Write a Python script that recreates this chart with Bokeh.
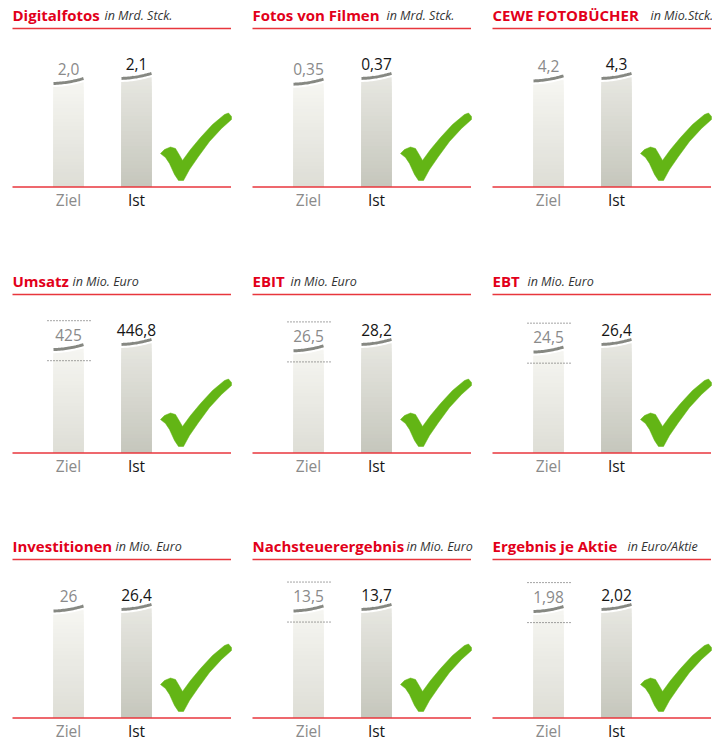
import numpy as np
from bokeh.plotting import figure
from bokeh.layouts import gridplot
from bokeh.models import Range1d
from bokeh.core.properties import value
from bokeh.embed import file_html
from bokeh.resources import INLINE

# ---------------- data ----------------
titles = ["Digitalfotos", "Fotos von Filmen", "CEWE FOTOBÜCHER",
          "Umsatz", "EBIT", "EBT",
          "Investitionen", "Nachsteuerergebnis", "Ergebnis je Aktie"]
units = ["in Mrd. Stck.", "in Mrd. Stck.", "in Mio.Stck.",
         "in Mio. Euro", "in Mio. Euro", "in Mio. Euro",
         "in Mio. Euro", "in Mio. Euro", "in Euro/Aktie"]
categories = ["Ziel", "Ist"]
ziel = [2.0, 0.35, 4.2, 425, 26.5, 24.5, 26, 13.5, 1.98]
ist = [2.1, 0.37, 4.3, 446.8, 28.2, 26.4, 26.4, 13.7, 2.02]
ziel_labels = ["2,0", "0,35", "4,2", "425", "26,5", "24,5", "26", "13,5", "1,98"]
ist_labels = ["2,1", "0,37", "4,3", "446,8", "28,2", "26,4", "26,4", "13,7", "2,02"]
ziel_is_range = [False, False, False, True, True, True, False, True, True]

# ---------------- layout / style ----------------
COL_W = [240, 240, 232]
ROW_H = [266, 265, 210]
LEFT, RIGHT = 12, 230.5
TITLE_Y, RULE_Y, BASE_Y, CAT_Y = 14.5, 28, 186.5, 199
LABEL_DY = 17        # px above bar value for the value label
BAR_X = [68, 136]
BAR_HALF = 15
IST_H = 106.5        # pixel height of the "Ist" bar
UNIT_X = [104, 146, 170, 72, 50, 47, 115, 166, 147]
RED = "#e2001a"
RULE_RED = "#e8363c"
GRAY_TXT = "#8a8a8a"
DARK_TXT = "#151515"
CAP = "#868882"
GREEN = "#63b515"
BAR_COLS = [("#f6f6f2", "#deded6"), ("#e7e7e1", "#c6c7bd")]
FONT = "Open Sans"

CHECK = [(160, 153), (164, 149), (170, 146.5), (175, 148), (178, 153), (182, 160),
         (190, 149), (200, 137), (212, 124), (224, 114), (228, 112.5), (231, 116),
         (231, 119), (221, 128), (209, 141), (198, 156), (189, 169), (183, 180),
         (178, 180), (174, 174), (169, 163), (165, 157)]


def mix(c1, c2, t):
    a = [int(c1[i:i + 2], 16) for i in (1, 3, 5)]
    b = [int(c2[i:i + 2], 16) for i in (1, 3, 5)]
    return "#%02x%02x%02x" % tuple(round(a[k] + (b[k] - a[k]) * t) for k in range(3))


def g(s):
    # shape of the curved bar top (in pixels, relative to bar value)
    return 2.5 * s + 1.0 * s ** 2


def panel(i, w, h):
    p = figure(width=w, height=h, x_range=Range1d(0, w), y_range=Range1d(h, 0),
               output_backend="svg", toolbar_location=None, min_border=0,
               x_axis_type=None, y_axis_type=None)
    p.grid.visible = False
    p.outline_line_color = None
    p.background_fill_color = "white"
    p.border_fill_color = "white"
    u = ist[i] / IST_H
    p.extra_y_ranges = {"val": Range1d(-(h - BASE_Y) * u, BASE_Y * u)}

    # title + unit
    p.text(x=[LEFT], y=[TITLE_Y], text=[titles[i]], text_color=RED,
           text_font=value(FONT), text_font_style="bold", text_font_size="15px",
           text_baseline="alphabetic", text_align="left")
    p.text(x=[UNIT_X[i]], y=[TITLE_Y], text=[units[i]], text_color="#333333",
           text_font=value(FONT), text_font_style="italic", text_font_size="12.5px",
           text_baseline="alphabetic", text_align="left")
    p.segment(x0=[LEFT], y0=[RULE_Y], x1=[RIGHT], y1=[RULE_Y], line_color=RULE_RED, line_width=1.4)

    vals = [ziel[i], ist[i]]
    labs = [ziel_labels[i], ist_labels[i]]
    N = 30
    ss = np.linspace(-1, 1, 21)
    for k in range(2):
        x, v = BAR_X[k], vals[k]
        top_c, bot_c = BAR_COLS[k]
        vtop = v + 6 * u
        tops = [vtop * (N - j) / N for j in range(N)]
        cols = [mix(top_c, bot_c, j / (N - 1)) for j in range(N)]
        p.quad(left=[x - BAR_HALF] * N, right=[x + BAR_HALF] * N, bottom=[0] * N, top=tops,
               fill_color=cols, line_color=None, y_range_name="val")
        # carve curved top
        cx = list(x + ss * BAR_HALF)
        cy = list(v + g(ss) * u)
        mx = [x - BAR_HALF - 1] + cx + [x + BAR_HALF + 1, x + BAR_HALF + 1, x - BAR_HALF - 1]
        my = [cy[0]] + cy + [cy[-1], v + 20 * u, v + 20 * u]
        p.patch(mx, my, fill_color="white", line_color=None, y_range_name="val")
        # cap
        p.line(cx, list(v + (g(ss) + 3.6) * u), line_color=CAP, line_width=3,
               line_cap="butt", y_range_name="val")
        # value label
        p.text(x=[x], y=[v + LABEL_DY * u], text=[labs[k]],
               text_color=GRAY_TXT if k == 0 else DARK_TXT,
               text_font=value(FONT), text_font_size="15.5px",
               text_align="center", text_baseline="alphabetic", y_range_name="val")
        # category label
        p.text(x=[x], y=[CAT_Y], text=[categories[k]],
               text_color=GRAY_TXT if k == 0 else DARK_TXT,
               text_font=value(FONT), text_font_size="15.5px",
               text_align="center", text_baseline="alphabetic")

    if ziel_is_range[i]:
        x = BAR_X[0]
        p.segment(x0=[x - 21, x - 21], x1=[x + 23, x + 23],
                  y0=[ziel[i] + 31 * u, ziel[i] - 9 * u], y1=[ziel[i] + 31 * u, ziel[i] - 9 * u],
                  line_color="#4a4a4a", line_width=1, line_dash="1 2", y_range_name="val")

    # baseline
    p.segment(x0=[LEFT], y0=[0], x1=[RIGHT], y1=[0], line_color=RULE_RED, line_width=1.3,
              y_range_name="val")
    # check mark
    p.patch([c[0] for c in CHECK], [c[1] for c in CHECK], fill_color=GREEN, line_color=GREEN,
            line_width=0.5)
    return p


grid = []
for r in range(3):
    row = []
    for c in range(3):
        row.append(panel(r * 3 + c, COL_W[c], ROW_H[r]))
    grid.append(row)

layout = gridplot(grid, toolbar_location=None)
open("out.html", "w").write(file_html(layout, INLINE))
